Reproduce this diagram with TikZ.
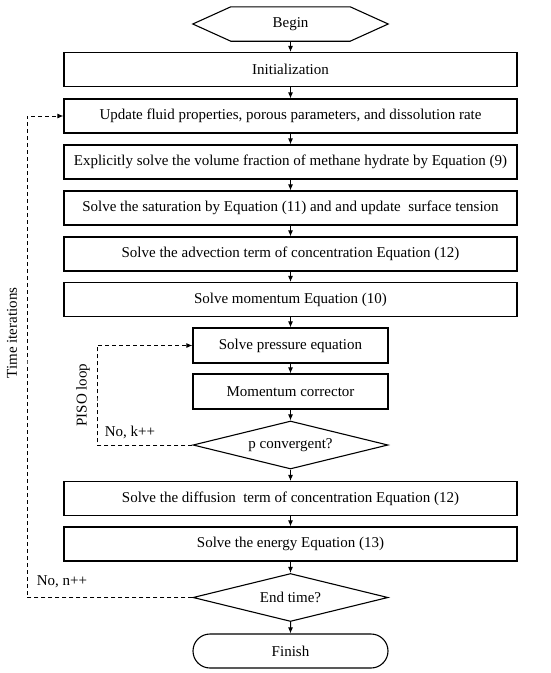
\documentclass[tikz,border=0pt]{standalone}
\usepackage{fontspec}
\setmainfont{Liberation Serif}
\usepackage{tikz}
\usetikzlibrary{shapes.geometric,shapes.misc,arrows.meta}

\begin{document}
\begin{tikzpicture}[x=1pt,y=-1pt]
\tikzstyle{every node}+=[inner sep=0pt,font=\fontsize{15}{18}\selectfont]
\tikzstyle{bigbox}=[draw,line width=1.1pt,minimum width=453pt,minimum height=34pt]
\tikzstyle{smallbox}=[draw,line width=1.1pt,minimum width=195pt,minimum height=35pt]
\tikzstyle{decide}=[draw,line width=1.1pt,diamond,aspect=4.06,minimum width=195pt,minimum height=48pt]
\tikzstyle{flow}=[line width=1pt,-{Latex[length=6pt,width=5pt]}]
\tikzstyle{loop}=[flow,dashed,dash pattern=on 4pt off 3pt]
\useasboundingbox (0,0) rectangle (550,673);
\node (begin) [minimum width=195pt,minimum height=34pt] at (290.5,24) {Begin};
\draw [line width=1.1pt] (begin.west) -- ([xshift=38pt]begin.north west) -- ([xshift=-38pt]begin.north east) -- (begin.east) -- ([xshift=-38pt]begin.south east) -- ([xshift=38pt]begin.south west) -- cycle;
\node (init) [bigbox] at (290.5,69.5) {Initialization};
\node (update) [bigbox] at (290.5,116) {Update fluid properties, porous parameters, and dissolution rate};
\node (expl) [bigbox] at (290.5,162) {Explicitly solve the volume fraction of methane hydrate by Equation (9)};
\node (satur) [bigbox] at (290.5,208) {Solve the saturation by Equation (11) and and update\ \ surface tension};
\node (advec) [bigbox] at (290.5,254) {Solve the advection term of concentration Equation (12)};
\node (momen) [bigbox] at (290.5,299.5) {Solve momentum Equation (10)};
\node (press) [smallbox] at (290.5,345.5) {Solve pressure equation};
\node (corr) [smallbox] at (290.5,391.5) {Momentum corrector};
\node (pconv) [decide] at (290.5,445) {p convergent?};
\node (diffu) [bigbox] at (290.5,498.5) {Solve the diffusion\ \ term of concentration Equation (12)};
\node (energy) [bigbox] at (290.5,544) {Solve the energy Equation (13)};
\node (endt) [decide] at (290.5,597.5) {End time?};
\node (finish) [draw,line width=1.1pt,rounded rectangle,minimum width=195pt,minimum height=34pt] at (290.5,651) {Finish};
\draw [flow] (begin) -- (init);
\draw [flow] (init) -- (update);
\draw [flow] (update) -- (expl);
\draw [flow] (expl) -- (satur);
\draw [flow] (satur) -- (advec);
\draw [flow] (advec) -- (momen);
\draw [flow] (momen) -- (press);
\draw [flow] (press) -- (corr);
\draw [flow] (corr) -- (pconv);
\draw [flow] (pconv) -- (diffu);
\draw [flow] (diffu) -- (energy);
\draw [flow] (energy) -- (endt);
\draw [flow] (endt) -- (finish);
\coordinate (piso) at (97,400);
\coordinate (tloop) at (27,360);
\draw [loop] (pconv.west) -| (piso) |- (press.west);
\draw [loop] (endt.west) -| (tloop) |- (update.west);
\node (pisolab) [rotate=90] at (83,395) {PISO loop};
\node (timelab) [rotate=90] at (12,333) {Time iterations};
\node (nok) at (130,432) {No, k++};
\node (non) at (62,582) {No, n++};
\end{tikzpicture}
\end{document}
